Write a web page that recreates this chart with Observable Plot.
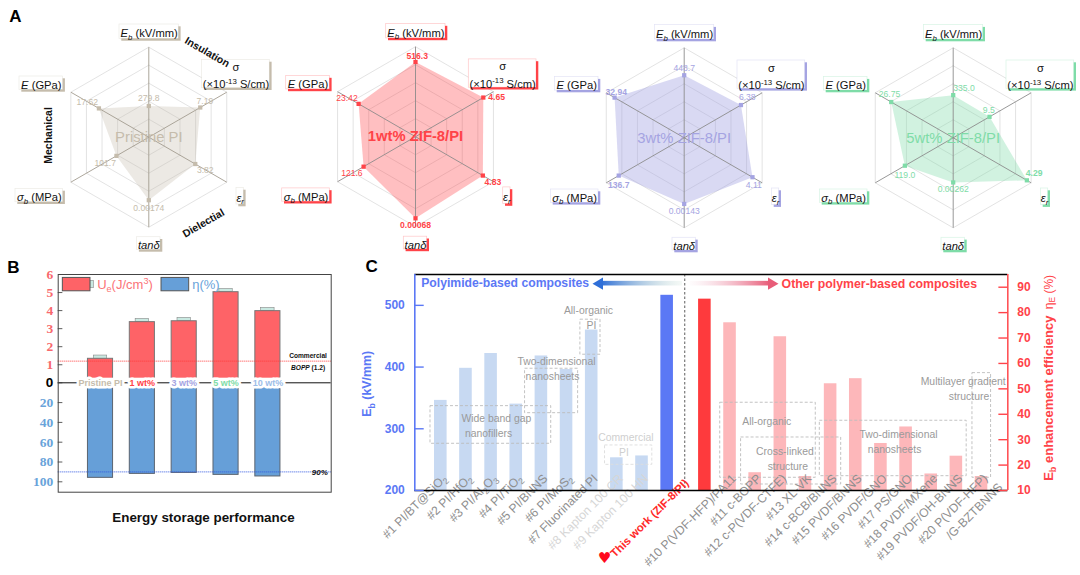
<!DOCTYPE html>
<html><head><meta charset="utf-8">
<script src="https://cdn.jsdelivr.net/npm/d3@7"></script>
<script src="https://cdn.jsdelivr.net/npm/@observablehq/plot@0.6"></script>
<style>
html,body{margin:0;padding:0;background:#fff}
#fig{position:relative;width:1080px;height:575px;overflow:hidden;background:#fff;font-family:"Liberation Sans",Arial,sans-serif}
#fig svg{position:absolute;display:block;max-width:none;overflow:visible}
</style></head><body><div id="fig"></div>
<script>
// ---------- Panel A data ----------
const radarAxes = ["Eb","sigma","er","tan","sb","E"];
const radarNames = ["Pristine PI","1wt% ZIF-8/PI","3wt% ZIF-8/PI","5wt% ZIF-8/PI"];
const radarValuesPristine = ["279.8","7.19","3.82","0.00174","101.7","17.62"];
const radarValues1wt = ["516.3","4.65","4.83","0.00068","121.6","23.42"];
const radarValues3wt = ["448.7","6.38","4.11","0.00143","136.7","32.94"];
const radarValues5wt = ["335.0","9.5","4.29","0.00262","119.0","26.75"];
const radarRadiusPristine = [0.347,0.66,0.596,0.70,0.415,0.64];
const radarRadius1wt = [0.83,0.87,0.864,0.907,0.666,0.73];
const radarRadius3wt = [0.695,0.728,0.876,0.735,0.84,0.893];
const radarRadius5wt = [0.474,0.466,0.945,0.496,0.62,0.795];
const radarBest1wt = [1,1,1,1,0,0];
const radarBest3wt = [0,0,0,0,1,1];
const radarBest5wt = [0,0,1,0,0,0];
const radarBestPristine = [0,0,0,0,0,0];
const axisLabelText = ["[i:E][is:b] (kV/mm)","σ\n(×10[u:-13] S/cm)","[i:ε][is:r]","[i:tanδ]","[i:σ][is:b] (MPa)","[i:E] (GPa)"];
const ringLevels = [0.2,0.4,0.6,0.8,1];

// ---------- Panel B data ----------
const sampleLabels = ["Pristine PI","1 wt%","3 wt%","5 wt%","10 wt%"];
const energyDensity = [1.33,3.36,3.41,5.02,3.97];
const energyCap = [1.51,3.54,3.60,5.20,4.15];
const efficiency = [96,92,91,93,94.6];
const uTicks = [1,2,3,4,5,6];
const etaTicks = [20,40,60,80,100];

// ---------- Panel C data ----------
const compLabels = ["#1 PI/BT@SiO[s:2]","#2 PI/HfO[s:2]","#3 PI/Al[s:2]O[s:3]","#4 PI/TiO[s:2]","#5 PI/BNNS","#6 PI/MoS[s:2]","#7 Fluorinated PI","#8 Kapton 100 CR","#9 Kapton 100 HN","This work (ZIF-8/PI)",
  "","#10 P(VDF-HFP)/PA11","#11 c-BOPP","#12 c-P(VDF-CTFE)","#13 XL-VK","#14 c-BCB/BNNS","#15 PVDF/BNNS","#16 PVDF/GNO","#17 PS/GNO","#18 PVDF/MXene","#19 PVDF/OH-BNNS","#20 P(VDF-HFP)"];
const ebValues = [346,398,422,340,418,396,460,253,256,516.3];
const enhancementValues = [85.3,76,17,70.5,15.5,52,54,28.5,35,16.5,23.5,15.5];
const ebTicks = [200,300,400,500];
const enhTicks = [10,20,30,40,50,60,70,80,90];

const C = {tan:"#c5bcac",red:"#ff4348",purple:"#a5a4e2",green:"#7fdca8",lightblue:"#9dbde8"};
const font = "Liberation Sans";
const fig = document.getElementById("fig");

function rich(svg){
  const re=/\[(i|s|u|is):([^\]]+)\]/g;
  svg.querySelectorAll("text,tspan").forEach(n=>{
    if(n.children.length||!n.textContent.includes("["))return;
    const t=n.textContent;n.textContent="";
    let last=0,m,back=0;
    const add=(s,k)=>{
      const e=document.createElementNS("http://www.w3.org/2000/svg","tspan");
      e.textContent=s;
      if(k&&k.includes("i"))e.setAttribute("font-style","italic");
      if(k==="s"||k==="is"||k==="u"){
        const off=k==="u"?-0.55:0.35;
        e.setAttribute("font-size","70%");
        e.setAttribute("dy",(off+back/0.7).toFixed(3)+"em");
        back=-off*0.7;
      } else if(back){e.setAttribute("dy",back.toFixed(3)+"em");back=0;}
      n.appendChild(e);
    };
    while((m=re.exec(t))){if(m.index>last)add(t.slice(last,m.index));add(m[2],m[1]);last=re.lastIndex;}
    if(last<t.length)add(t.slice(last));
  });
}
function place(plot,l,t){plot.style.left=l+"px";plot.style.top=t+"px";rich(plot);fig.appendChild(plot);return plot;}

// ---------- Panel A ----------
const R = 90;
const angle = i => Math.PI/2 - i*Math.PI/3;
const polar = (r,i) => ({x:r*Math.cos(angle(i)),y:r*Math.sin(angle(i))});
const boxRel = [[-29.3,30,-112.7,-98.3],[53.3,121,-77.3,-49],[87.7,95,50.7,67.3],[-11.7,11.7,100,112.7],[-133.3,-85.7,51.7,65],[-129.3,-85.7,-60.7,-47.3]];
const labelOffsets = [
  [[0,-7.3],[4.7,-6.7],[10,6.7],[0,8],[-11.3,7],[-11.7,-6.3]],
  [[1.7,-5.7],[13.3,-.7],[10,6.7],[0,7.3],[-11.7,6.3],[-11.7,-5.7]],
  [[0,-7],[6.3,-8],[1.3,8.3],[0,7.7],[0,9.3],[1.7,-5.3]],
  [[10.7,-6.7],[-.7,-6.3],[7.3,-6.7],[0,7],[0,9.3],[-1.7,-7.3]]
];
function radar(p){
  const w=p.right-p.left,h=258,cx=p.cx-p.left,cy=p.cy;
  const ring=[];
  ringLevels.forEach(l=>{for(let k=0;k<=6;k++)ring.push({...polar(l,k%6),l});});
  const poly=[...p.r,p.r[0]].map((r,i)=>polar(r,i%6));
  const pts=p.r.map((r,i)=>{const q=polar(r,i);return {...q,label:p.values[i],best:p.best[i],ox:labelOffsets[p.idx][i][0],oy:labelOffsets[p.idx][i][1]};});
  const boxes=boxRel.map((b,i)=>({x1:b[0]/R,x2:b[1]/R,y1:-b[2]/R,y2:-b[3]/R,
      tx:(b[0]+b[1])/2/R,ty:-(b[2]+b[3])/2/R,t:axisLabelText[i]}));
  const marks=[
    Plot.line(ring,{x:"x",y:"y",z:"l",stroke:"#dcdcdc",strokeWidth:0.8}),
    Plot.line(poly,{x:"x",y:"y",stroke:"none",fill:p.color,fillOpacity:p.fo,curve:"linear"}),
    Plot.link([0,1,2],{x1:i=>polar(1,i).x,y1:i=>polar(1,i).y,x2:i=>polar(1,i+3).x,y2:i=>polar(1,i+3).y,stroke:p.spoke,strokeWidth:0.9}),
    Plot.dot(pts,{x:"x",y:"y",symbol:"square",r:2.4,fill:p.color,stroke:"none"})
  ];
  pts.forEach(d=>marks.push(Plot.text([d],{x:"x",y:"y",text:"label",dx:d.ox,dy:d.oy,fill:p.color,fontSize:8.6,fontWeight:d.best?"bold":"normal",fontFamily:font})));
  marks.push(Plot.text([p.name],{x:()=>0,y:()=>0,text:d=>d,fill:p.color,fontSize:14.8,fontWeight:p.idx==1?"bold":"normal",fontFamily:font}));
  marks.push(Plot.rect(boxes,{x1:"x1",x2:"x2",y1:"y1",y2:"y2",fill:p.color,dx:2.3,dy:2.3}));
  marks.push(Plot.rect(boxes,{x1:"x1",x2:"x2",y1:"y1",y2:"y2",fill:"white",stroke:p.color,strokeOpacity:0.3,strokeWidth:0.7}));
  marks.push(Plot.text(boxes,{x:"tx",y:"ty",text:"t",fill:"#111",fontSize:11.2,lineHeight:1.55,fontFamily:font}));
  if(p.extra)marks.push(...p.extra(cx,cy));
  return place(Plot.plot({width:w,height:h,margin:0,style:{background:"transparent",fontFamily:font},
    x:{domain:[-cx/R,(w-cx)/R],range:[0,w],axis:null},
    y:{domain:[(cy-h)/R,cy/R],range:[h,0],axis:null},
    marks}),p.left,0);
}
const panelTitleA=(cx,cy)=>[
  Plot.text(["Insulation"],{x:()=>(206.7-cx)/R,y:()=>(cy-51.7)/R,text:d=>d,rotate:30,fontSize:10.5,fontWeight:"bold",fontFamily:font,fill:"#111"}),
  Plot.text(["Mechanical"],{x:()=>(48.3-cx)/R,y:()=>(cy-135)/R,text:d=>d,rotate:-90,fontSize:10.5,fontWeight:"bold",fontFamily:font,fill:"#111"}),
  Plot.text(["Dielectial"],{x:()=>(203-cx)/R,y:()=>(cy-222.7)/R,text:d=>d,rotate:-30,fontSize:10.5,fontWeight:"bold",fontFamily:font,fill:"#111"}),
  Plot.text(["A"],{x:()=>(15-cx)/R,y:()=>(cy-16)/R,text:d=>d,fontSize:17,fontWeight:"bold",fontFamily:font,fill:"#000"})
];
radar({idx:0,left:0,right:272,cx:148.3,cy:136.7,name:radarNames[0],values:radarValuesPristine,r:radarRadiusPristine,best:radarBestPristine,color:C.tan,fo:0.33,spoke:"#a39c90",extra:panelTitleA});
radar({idx:1,left:272,right:545,cx:415,cy:136.2,name:radarNames[1],values:radarValues1wt,r:radarRadius1wt,best:radarBest1wt,color:C.red,fo:0.34,spoke:"#8f8a8a"});
radar({idx:2,left:545,right:812,cx:683.7,cy:137.3,name:radarNames[2],values:radarValues3wt,r:radarRadius3wt,best:radarBest3wt,color:C.purple,fo:0.42,spoke:"#8c8c8c"});
radar({idx:3,left:812,right:1080,cx:952.7,cy:137.3,name:radarNames[3],values:radarValues5wt,r:radarRadius5wt,best:radarBest5wt,color:C.green,fo:0.36,spoke:"#8c8c8c"});

// ---------- Panel B ----------
(function(){
  const top=258,W=350,H=317;
  const rows=sampleLabels.map((s,i)=>({s,i:i,u:energyDensity[i],cap:energyCap[i],eta:-efficiency[i],c:[C.tan,C.red,C.purple,C.green,C.lightblue][i]}));
  const serif="Liberation Serif";
  const marks=[
    Plot.rect(rows,{x1:d=>d.i-0.16,x2:d=>d.i+0.16,y1:"u",y2:"cap",fill:"#c9e9e1",stroke:"#888",strokeWidth:0.6}),
    Plot.rect(rows,{x1:d=>d.i-0.3,x2:d=>d.i+0.3,y1:0,y2:"u",fill:"#fe6367",stroke:"#777",strokeWidth:1}),
    Plot.rect(rows,{x1:d=>d.i-0.3,x2:d=>d.i+0.3,y1:0,y2:"eta",fill:"#669fd8",stroke:"#5b6470",strokeWidth:1}),
    Plot.rect(rows,{x1:d=>d.i-0.33,x2:d=>d.i+0.33,y1:0.255,y2:-5,fill:"white"}),
    Plot.ruleY([0],{stroke:"#111",strokeWidth:1}),
    Plot.ruleY([1.2],{stroke:"#ff3b3b",strokeWidth:1,strokeDasharray:"1,1"}),
    Plot.ruleY([-90],{stroke:"#2f55e0",strokeWidth:1,strokeDasharray:"1,1"}),
    Plot.ruleY([...uTicks.slice(0,5),0,...etaTicks.map(v=>-v)],{x1:-1.011,x2:-0.9,stroke:"#333",strokeWidth:0.8}),
    Plot.axisY(uTicks,{anchor:"left",label:null,tickSize:0,tickPadding:5,fontSize:13.5,fontWeight:"bold",fontFamily:serif,fill:"#f8696d",tickFormat:d=>d}),
    Plot.axisY([0],{anchor:"left",label:null,tickSize:0,tickPadding:5,fontSize:13.5,fontWeight:"bold",fontFamily:font,fill:"#000",tickFormat:d=>d}),
    Plot.axisY(etaTicks.map(v=>-v),{anchor:"left",label:null,tickSize:0,tickPadding:5,fontSize:13.5,fontWeight:"bold",fontFamily:serif,fill:"#69a3da",tickFormat:d=>-d}),
    Plot.frame({stroke:"#444",strokeWidth:1}),
    Plot.text(rows,{x:"i",y:()=>0,text:"s",fill:"c",fontSize:9,fontWeight:"bold",fontFamily:font,stroke:"white",strokeWidth:5,paintOrder:"stroke"}),
    // legend
    Plot.rect([0],{x1:-0.24,x2:-0.16,y1:5.24,y2:5.65,fill:"#c9e9e1",stroke:"#888",strokeWidth:0.6}),
    Plot.rect([0],{x1:-0.9,x2:-0.24,y1:5.07,y2:5.81,fill:"#fe6367",stroke:"#555",strokeWidth:1}),
    Plot.rect([0],{x1:1.458,x2:2.119,y1:5.07,y2:5.81,fill:"#669fd8",stroke:"#555",strokeWidth:1}),
    Plot.text(["U[s:e](J/cm[u:3])"],{x:()=>-0.08,y:()=>5.42,text:d=>d,textAnchor:"start",fill:"#fb7478",fontSize:13,fontFamily:font}),
    Plot.text(["η(%)"],{x:()=>2.19,y:()=>5.42,text:d=>d,textAnchor:"start",fill:"#69a3da",fontSize:13,fontFamily:font}),
    Plot.text(["Commercial"],{x:()=>4.96,y:()=>1.51,text:d=>d,fontSize:6.6,fontWeight:"bold",fontFamily:font,fill:"#111"}),
    Plot.text(["[i:BOPP] (1.2)"],{x:()=>4.96,y:()=>0.83,text:d=>d,fontSize:6.6,fontWeight:"bold",fontFamily:font,fill:"#111"}),
    Plot.text(["90%"],{x:()=>5.24,y:()=>-90.6,text:d=>d,fontSize:8,fontWeight:"bold",fontStyle:"italic",fontFamily:font,fill:"#111"}),
    Plot.text(["Energy storage performance"],{x:()=>2.46,y:()=>-136,text:d=>d,fontSize:13.4,fontWeight:"bold",fontFamily:font,fill:"#111"}),
    Plot.text(["B"],{x:()=>-2.08,y:()=>6.4,text:d=>d,fontSize:17,fontWeight:"bold",fontFamily:font,fill:"#000"})
  ];
  place(Plot.plot({width:W,height:H,marginLeft:57.7,marginRight:W-330.7,marginTop:274-top,marginBottom:top+H-491.7,
    style:{background:"transparent",fontFamily:font},
    x:{type:"linear",domain:[-1.011,5.513],axis:null},
    y:{type:"linear",domain:[-110.5,0,6],range:[491.7-top,382.3-top,274-top],axis:null},
    marks}),0,top);
})();

// ---------- Panel C ----------
(function(){
  const top=258,left=350,W=730,H=317;
  const pos=i=>i<10?i:i+0.5;
  const toEb=d3.scaleLinear([10,95],[200,550]);
  const blue="#5b78f5",red="#ff4349";
  const bars=[
    ...ebValues.map((v,i)=>({i,v,fill:i==9?blue:"#c7d9f2"})),
    ...enhancementValues.map((v,k)=>({i:10+k,v:toEb(v),fill:k==0?"#fe3a3d":"#fdb7ba"}))
  ];
  const labels=compLabels.map((s,i)=>({s,i})).filter(d=>d.s);
  const annoBoxes=[[-0.41,4.39,275.7,336.7],[3.35,5.46,325.3,397.3],[5.55,6.35,420,476.8],[6.53,8.41,241.6,273],
    [11.11,14.91,220.6,342.2],[11.94,15.92,209.7,285.9],[15.07,20.91,223.2,313],[21.14,21.88,220.6,390.2]];
  const annoBoxLight=[0,0,0,1,0,0,0,0];
  const annoTexts=[["Wide band gap",2.21,315.6,0],["nanofillers",1.9,292.4,0],["Two-dimensional",4.6,408.7,0],["nanosheets",4.44,384.9,0],
    ["All-organic",5.87,490.7,0],["PI",5.99,467.5,0],["Commercial",7.36,286,1],["PI",7.28,262,1],
    ["All-organic",12.96,311.9,0],["Cross-linked",13.68,263.7,0],["structure",13.8,239.4,0],
    ["Two-dimensional",18.2,290.8,0],["nanosheets",18.04,266.5,0],["Multilayer gradient",20.77,376.3,0],["structure",21,352,0]];
  const gradient=()=>{
    const defs=d3.create("svg:defs");
    const mk=(id,a,b)=>{const g=defs.append("linearGradient").attr("id",id);
      g.append("stop").attr("offset",0).attr("stop-color",a[0]).attr("stop-opacity",a[1]);
      g.append("stop").attr("offset",1).attr("stop-color",b[0]).attr("stop-opacity",b[1]);};
    mk("gl",["#2f6fd8",1],["#bcd8c8",0.15]);
    mk("gr",["#f0c0d0",0.05],["#e85c78",1]);
    return defs.node();
  };
  const marks=[
    gradient,
    Plot.rect(bars,{x1:d=>pos(d.i)-0.25,x2:d=>pos(d.i)+0.25,y1:200,y2:"v",fill:"fill"}),
    Plot.ruleX([9.7],{stroke:"#333",strokeWidth:0.8,strokeDasharray:"2.5,2"}),
    Plot.rect(annoBoxes,{x1:d=>d[0],x2:d=>d[1],y1:d=>d[2],y2:d=>d[3],fill:"none",stroke:(d,i)=>annoBoxLight[i]?"#dddddd":"#bcbcbc",strokeWidth:0.9,strokeDasharray:"3,2"}),
    Plot.text(annoTexts,{x:d=>d[1],y:d=>d[2],text:d=>d[0],fill:d=>d[3]?"#cfcfcf":"#9a9a9a",fontSize:10.4,fontFamily:font}),
    Plot.text(labels.filter(d=>d.i!=9),{x:d=>pos(d.i),y:()=>219.5,text:"s",rotate:-45,textAnchor:"end",dx:4,dy:-2,fill:d=>(d.i==7||d.i==8)?"#d6d6d6":"#8e8e8e",fontSize:12.2,fontFamily:font}),
    Plot.text(labels.filter(d=>d.i==9),{x:d=>pos(d.i)+0.78,y:()=>215,text:"s",rotate:-45,textAnchor:"end",fill:"#ff2a2a",fontSize:11.4,fontWeight:"bold",fontFamily:font}),
    Plot.text(["/G-BZTBNNS"],{x:()=>pos(21)+0.75,y:()=>208.6,text:d=>d,rotate:-45,textAnchor:"end",fill:"#8e8e8e",fontSize:12.2,fontFamily:font}),
    Plot.text(["♥"],{x:()=>6.51,y:()=>90,text:d=>d,fill:"#ff0a1e",fontSize:15,fontFamily:"DejaVu Sans"}),
    Plot.ruleY([200],{stroke:"#000",strokeWidth:1.4}),
    Plot.ruleY([550],{stroke:"#000",strokeWidth:1.4}),
    Plot.ruleX([-1.034],{stroke:blue,strokeWidth:1.6}),
    Plot.ruleX([22.545],{stroke:"#ff5357",strokeWidth:1.6}),
    Plot.ruleY(ebTicks,{x1:-1.034,x2:-0.66,stroke:blue,strokeWidth:1.4}),
    Plot.ruleY(enhTicks.map(v=>toEb(v)),{x1:22.19,x2:22.545,stroke:red,strokeWidth:1.4}),
    Plot.axisY(ebTicks,{anchor:"left",label:null,tickSize:0,tickPadding:10,fontSize:12,fontWeight:"bold",fontFamily:font,fill:blue}),
    Plot.axisY(enhTicks.map(v=>toEb(v)),{anchor:"right",label:null,tickSize:0,tickPadding:9.5,fontSize:12,fontWeight:"bold",fontFamily:font,fill:red,tickFormat:d=>Math.round(toEb.invert(d))}),
    Plot.text(["E[s:b] (kV/mm)"],{x:()=>-2.914,y:()=>373,text:d=>d,rotate:-90,fill:blue,fontSize:12.4,fontWeight:"bold",fontFamily:font}),
    Plot.text(["E[s:b] enhancement efficiency"],{x:()=>24.17,y:()=>349.5,text:d=>d,rotate:-90,fill:red,fontSize:13,fontWeight:"bold",fontFamily:font}),
    Plot.text(["η[s:E] (%)"],{x:()=>24.17,y:()=>521.6,text:d=>d,rotate:-90,fill:red,fontSize:12,fontFamily:font}),
    // group headers
    Plot.text(["Polyimide-based composites"],{x:()=>-0.78,y:()=>535.5,text:d=>d,textAnchor:"start",fill:blue,fontSize:12.2,fontWeight:"bold",fontFamily:font}),
    Plot.text(["Other polymer-based composites"],{x:()=>13.55,y:()=>534.5,text:d=>d,textAnchor:"start",fill:red,fontSize:12.3,fontWeight:"bold",fontFamily:font}),
    Plot.rect([0],{x1:6.39,x2:9.61,y1:531.4,y2:538.9,fill:"url(#gl)"}),
    Plot.dot([0],{x:()=>6.31,y:()=>535.2,symbol:"triangle",r:4.5,rotate:-90,fill:"#2f6fd8"}),
    Plot.rect([0],{x1:9.92,x2:13.1,y1:531.4,y2:538.9,fill:"url(#gr)"}),
    Plot.dot([0],{x:()=>13.15,y:()=>535.2,symbol:"triangle",r:4.5,rotate:90,fill:"#e85c78"}),
    Plot.text(["C"],{x:()=>-2.755,y:()=>563,text:d=>d,fontSize:17,fontWeight:"bold",fontFamily:font,fill:"#000"})
  ];
  place(Plot.plot({width:W,height:H,marginLeft:414.3-left,marginRight:left+W-1007.3,marginTop:274-top,marginBottom:top+H-490,
    style:{background:"transparent",fontFamily:font},
    x:{type:"linear",domain:[-1.034,22.545],axis:null},
    y:{type:"linear",domain:[200,550],axis:null},
    marks}),left,top);
})();
</script></body></html>
